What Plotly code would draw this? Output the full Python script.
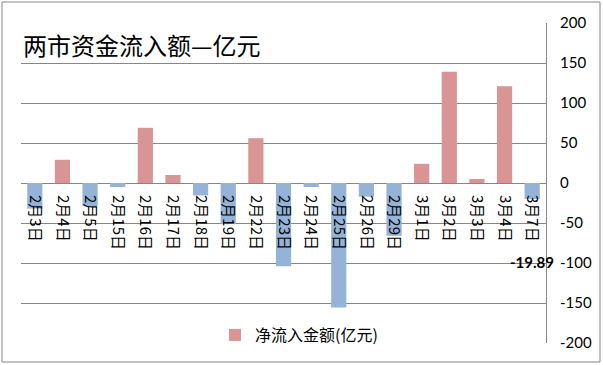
import plotly.graph_objects as go

categories = ["2月3日", "2月4日", "2月5日", "2月15日", "2月16日", "2月17日", "2月18日",
              "2月19日", "2月22日", "2月23日", "2月24日", "2月25日", "2月26日", "2月29日",
              "3月1日", "3月2日", "3月3日", "3月4日", "3月7日"]
values = [-32, 29, -29, -5, 69, 10, -15.5, -51.5, 56, -104, -5, -155.5, -17, -66,
          24, 139, 5, 121, -19.89]
y_ticks = [200, 150, 100, 50, 0, -50, -100, -150, -200]
series_name = "净流入金额(亿元)"
title_text = "两市资金流入额—亿元"
last_label = "-19.89"

POS = "#D99594"
NEG = "#95B3D7"
GRID = "#868686"

W, H = 603, 365
L, R, T, B = 21, 57, 23, 22
pw, ph = W - L - R, H - T - B

def px_x(x):
    return (x - L) / pw

def px_y(y):
    return (H - B - y) / ph

pos_vals = [v if v >= 0 else None for v in values]
neg_vals = [v if v < 0 else None for v in values]

fig = go.Figure()
fig.add_trace(go.Bar(x=categories, y=pos_vals, name=series_name,
                     marker=dict(color=POS, line=dict(width=0)), showlegend=True))
fig.add_trace(go.Bar(x=categories, y=neg_vals, name=series_name,
                     marker=dict(color=NEG, line=dict(width=0)), showlegend=False))

fig.update_layout(
    width=W, height=H,
    margin=dict(l=L, r=R, t=T, b=B, pad=0, autoexpand=False),
    paper_bgcolor="white", plot_bgcolor="white",
    barmode="overlay", bargap=0.45,
    showlegend=True,
    legend=dict(x=px_x(215), y=px_y(335), xanchor="left", yanchor="middle",
                bgcolor="rgba(0,0,0,0)",
                font=dict(family="Noto Sans CJK SC", size=16, color="#000000"),
                itemwidth=30),
    xaxis=dict(
        type="category", automargin=False,
        range=[-0.5, len(categories) - 0.5],
        anchor="free", position=0.5,
        tickangle=90,
        showline=False, showgrid=False, zeroline=False,
        ticks="outside", ticklen=8, tickcolor="rgba(0,0,0,0)",
        tickfont=dict(family="Noto Sans CJK SC", size=15, color="#000000"),
    ),
    yaxis=dict(
        range=[-200, 200], side="right", automargin=False,
        tickvals=y_ticks, ticktext=[str(t) for t in y_ticks],
        showgrid=True, gridcolor=GRID, gridwidth=1,
        zeroline=True, zerolinecolor=GRID, zerolinewidth=1,
        showline=True, linecolor=GRID, linewidth=1, mirror=False,
        ticks="", ticklabelstandoff=10,
        tickfont=dict(family="Lato", size=15, color="#000000"),
    ),
    annotations=[
        dict(text=title_text, xref="paper", yref="paper", x=px_x(21), y=px_y(45),
             xanchor="left", yanchor="middle", showarrow=False,
             font=dict(family="Noto Sans CJK SC", size=24, color="#000000")),
        dict(text="<b>" + last_label + "</b>", xref="x", yref="y", x=categories[-1], y=-99,
             xanchor="center", yanchor="middle", showarrow=False,
             font=dict(family="Lato", size=15, color="#000000")),
    ],
    shapes=[
        dict(type="rect", xref="paper", yref="paper",
             x0=px_x(2), x1=px_x(600), y0=px_y(362), y1=px_y(2),
             line=dict(color=GRID, width=1), fillcolor="rgba(0,0,0,0)", layer="below"),
    ],
)

fig.write_html("out.html", config={"displayModeBar": False},
               post_script="document.body.style.margin='0';")
